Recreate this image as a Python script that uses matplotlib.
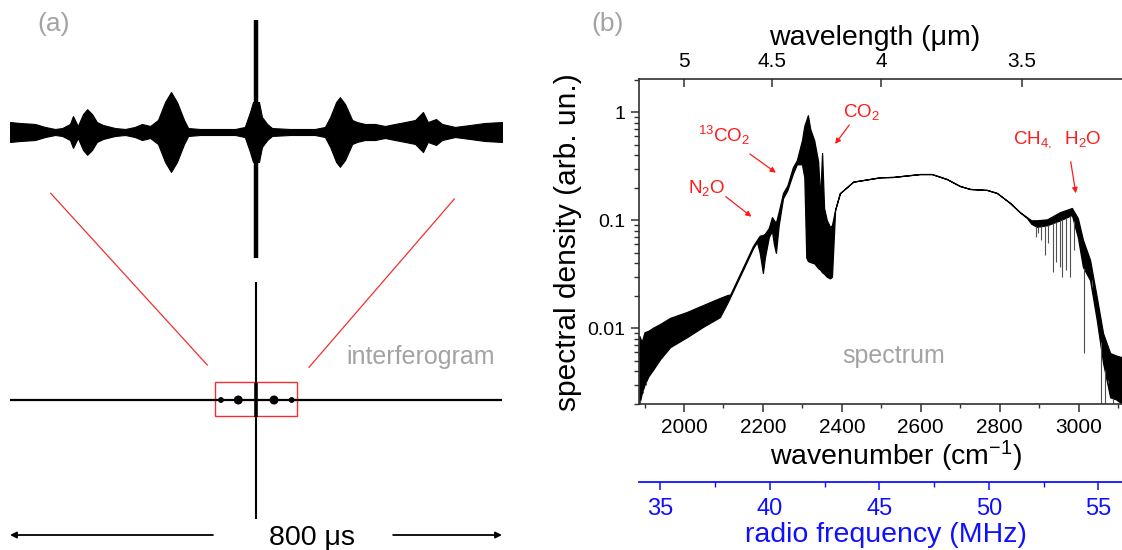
import numpy as np
import matplotlib
matplotlib.use('Agg')
import matplotlib.pyplot as plt
from matplotlib.patches import Rectangle
from matplotlib.lines import Line2D
from matplotlib.ticker import FixedLocator, NullLocator, MultipleLocator, LogLocator, NullFormatter

plt.rcParams['font.family'] = ['Liberation Sans', 'DejaVu Sans']
plt.rcParams['mathtext.fontset'] = 'custom'
plt.rcParams['mathtext.rm'] = 'Liberation Sans'
plt.rcParams['mathtext.it'] = 'Liberation Sans:italic'
plt.rcParams['mathtext.default'] = 'regular'

GRAY = '#a3a3a3'

# ---- interferogram, zoomed part (time in us, amplitude normalised to the centre burst)
zoom_t = [-66.0, -63.3, -59.3, -56.6, -53.9, -52.0, -49.9, -49.1, -47.8, -46.4, -45.3, -44.0,
          -42.7, -41.0, -37.8, -35.1, -32.5, -30.6, -28.4, -26.3, -24.4, -22.8, -21.2, -19.3,
          -18.2, -15.0, -11.0, -5.6, -3.0, -1.6, -0.8, 0.8, 1.6, 3.0, 4.3, 9.1, 15.8, 18.5,
          19.9, 21.5, 22.5, 23.9, 25.8, 27.1, 29.2, 31.9, 34.6, 37.3, 40.0, 42.7, 44.8, 46.1,
          48.3, 49.9, 53.4, 57.4, 61.4, 66.0]
zoom_env = [0.083, 0.075, 0.067, 0.042, 0.025, 0.033, 0.067, 0.133, 0.05, 0.15, 0.19, 0.15,
            0.083, 0.058, 0.033, 0.025, 0.042, 0.067, 0.05, 0.10, 0.25, 0.333, 0.25, 0.10,
            0.033, 0.025, 0.025, 0.025, 0.042, 0.167, 0.25, 0.25, 0.125, 0.067, 0.033, 0.025,
            0.025, 0.042, 0.125, 0.25, 0.29, 0.233, 0.10, 0.083, 0.067, 0.067, 0.05, 0.067,
            0.083, 0.10, 0.167, 0.083, 0.108, 0.067, 0.042, 0.058, 0.075, 0.083]
zoom_spike = (-1.05, 0.93)

# ---- interferogram, full record (800 us)
full_t = [-400, 400]
full_dots_t = [-57, -28.8, 29.3, 58]
full_dots_size = [10, 30, 30, 10]
full_spike = (-0.99, 0.98)
zoom_window = 66

# ---- spectrum: upper / lower envelope of the measured trace
spec_wn = [1887, 1893, 1900, 1910, 1921, 1940, 1965, 2008, 2048, 2091, 2111, 2117, 2150,
           2175, 2185, 2192, 2200, 2205, 2215, 2223, 2228, 2233, 2240, 2251, 2262, 2276,
           2286, 2299, 2305, 2310, 2314, 2320, 2330, 2340, 2345, 2350, 2355, 2362, 2370,
           2375, 2383, 2395, 2429, 2497, 2530, 2598, 2628, 2666, 2699, 2725, 2768, 2793,
           2826, 2851, 2869, 2880, 2894, 2920, 2953, 2983, 2998, 3011, 3029, 3046, 3062,
           3080, 3095, 3110]
spec_hi = [0.0085, 0.0075, 0.0092, 0.0095, 0.0101, 0.0110, 0.0125, 0.0142, 0.0164, 0.0191,
           0.0204, 0.0205, 0.037, 0.058, 0.066, 0.072, 0.073, 0.075, 0.085, 0.107, 0.10,
           0.095, 0.12, 0.179, 0.21, 0.31, 0.36, 0.55, 0.75, 0.85, 0.94, 0.70, 0.55, 0.35,
           0.16, 0.42, 0.13, 0.10, 0.087, 0.09, 0.125, 0.178, 0.228, 0.25, 0.252, 0.268,
           0.268, 0.241, 0.208, 0.195, 0.191, 0.179, 0.145, 0.119, 0.107, 0.100, 0.100,
           0.102, 0.119, 0.130, 0.105, 0.066, 0.043, 0.0195, 0.009, 0.0059, 0.0056, 0.0054]
spec_lo = [0.002, 0.0025, 0.0030, 0.0036, 0.0041, 0.0052, 0.0067, 0.0083, 0.0103, 0.0127,
           0.0175, 0.0195, 0.035, 0.055, 0.063, 0.050, 0.0325, 0.045, 0.070, 0.080, 0.06,
           0.050, 0.090, 0.160, 0.19, 0.27, 0.33, 0.33, 0.25, 0.045, 0.042, 0.041, 0.040,
           0.036, 0.035, 0.033, 0.032, 0.030, 0.029, 0.030, 0.125, 0.178, 0.228, 0.25, 0.252,
           0.268, 0.268, 0.241, 0.208, 0.195, 0.191, 0.179, 0.145, 0.119, 0.105, 0.093,
           0.087, 0.090, 0.100, 0.112, 0.070, 0.037, 0.028, 0.012, 0.0048, 0.0023, 0.0022,
           0.002]
# narrow absorption lines reaching below the envelope
line_wn = [1889, 1896, 1903, 2891, 2898, 2906, 2915, 2923, 2936, 2944, 2953, 2958, 2968,
           2978, 2988, 2999, 3013, 3020, 3033, 3056, 3067, 3074, 3087]
line_depth = [0.002, 0.0025, 0.003, 0.070, 0.076, 0.066, 0.048, 0.061, 0.033, 0.041, 0.037,
              0.030, 0.035, 0.030, 0.053, 0.066, 0.0059, 0.0325, 0.028, 0.002, 0.002, 0.0033,
              0.002]

wl_ticks = [5, 4.5, 4, 3.5]
wl_labels = ['5', '4.5', '4', '3.5']
rf_ticks = [35, 40, 45, 50, 55]
# radio frequency <-> optical wavenumber mapping of the comb
rf_ref_mhz, rf_ref_wn, wn_per_mhz = 35.0, 1940.0, 55.49

W, H = 1122, 550
fig = plt.figure(figsize=(W / 100, H / 100), dpi=100)


def fx(px):
    return px / W


def fy(py):
    return 1 - py / H


# ---------------- (a) interferogram ----------------
ax_z = fig.add_axes([fx(10), fy(264), fx(492), 264 / H])
ax_z.set_xlim(-66, 66)
ax_z.set_ylim(-1.1, 1.1)
ax_z.axis('off')
env = np.array(zoom_env)
ax_z.fill_between(zoom_t, -env, env, color='black', lw=0.8)
ax_z.vlines(0, zoom_spike[0], zoom_spike[1], color='black', lw=3.2)

ax_f = fig.add_axes([fx(10), 0, fx(492), 280 / H])
ax_f.set_xlim(-400, 400)
ax_f.set_ylim(-150 / 120, 130 / 120)
ax_f.axis('off')
ax_f.plot(full_t, [0, 0], color='black', lw=1.6)
ax_f.scatter(full_dots_t, [0] * len(full_dots_t), s=full_dots_size, color='black', zorder=3)
ax_f.vlines(0, full_spike[0], full_spike[1], color='black', lw=1.5)
ax_f.vlines(0, -0.14, 0.14, color='black', lw=2.6)
ax_f.add_patch(Rectangle((-zoom_window, -0.13), 2 * zoom_window, 0.283, fill=False,
                         edgecolor='#f03030', lw=1.0))
ax_f.annotate('', xy=(-400, -1.125), xytext=(-70, -1.125),
              arrowprops=dict(arrowstyle='-|>', color='black', lw=1.3, mutation_scale=9,
                              shrinkA=0, shrinkB=0), annotation_clip=False)
ax_f.annotate('', xy=(400, -1.125), xytext=(223, -1.125),
              arrowprops=dict(arrowstyle='-|>', color='black', lw=1.3, mutation_scale=9,
                              shrinkA=0, shrinkB=0), annotation_clip=False)
fig.text(fx(269), fy(545), '800 μs', fontsize=20.5, va='baseline')

for (x0, y0), (x1, y1) in [((50.7, 193.3), (207.3, 365)), ((454.3, 199), (309, 367.3))]:
    fig.add_artist(Line2D([fx(x0), fx(x1)], [fy(y0), fy(y1)], color='#f03030', lw=0.9))

fig.text(fx(346), fy(364), 'interferogram', fontsize=18, color=GRAY, va='baseline')
fig.text(fx(37), fy(31), '(a)', fontsize=19, color=GRAY, va='baseline')
fig.text(fx(591), fy(31), '(b)', fontsize=19, color=GRAY, va='baseline')

# ---------------- (b) spectrum ----------------
left, right, top, bottom = 639.3, 1122, 79.3, 404.3
ax = fig.add_axes([fx(left), fy(bottom), fx(right - left), (bottom - top) / H])
ax.set_xlim(1886.8, 3110)
ax.set_yscale('log')
ax.set_ylim(0.00198, 2.02)
ax.fill_between(spec_wn, spec_lo, spec_hi, color='black', edgecolor='black', lw=0.9)
line_top = np.interp(line_wn, spec_wn, spec_lo)
ax.vlines(line_wn, line_depth, line_top, color='#505050', lw=0.8)

for s in ['left', 'bottom', 'top']:
    ax.spines[s].set_color('#303030')
    ax.spines[s].set_linewidth(1.2)
ax.spines['right'].set_visible(False)

ax.xaxis.set_major_locator(MultipleLocator(200))
ax.xaxis.set_minor_locator(MultipleLocator(100))
ax.set_yticks([0.01, 0.1, 1])
ax.set_yticklabels(['0.01', '0.1', '1'])
ax.yaxis.set_minor_locator(LogLocator(base=10, subs=np.arange(2, 10)))
ax.yaxis.set_minor_formatter(NullFormatter())
ax.tick_params(axis='x', which='both', direction='out', top=False, labelsize=15, pad=4,
               color='#303030')
ax.tick_params(axis='x', which='major', length=6, width=1.1)
ax.tick_params(axis='x', which='minor', length=3.2, width=1.0)
ax.tick_params(axis='y', which='both', direction='out', right=False, labelsize=14, pad=4,
               color='#303030')
ax.tick_params(axis='y', which='major', length=6, width=1.1)
ax.tick_params(axis='y', which='minor', length=3.6, width=1.0)
ax.set_ylabel('spectral density (arb. un.)', fontsize=21.5, labelpad=4)
fig.text(fx(896), fy(465), 'wavenumber (cm$^{-1}$)', fontsize=20.5, ha='center',
         va='baseline')

sec = ax.secondary_xaxis('top', functions=(lambda x: 1e4 / x, lambda x: 1e4 / x))
sec.xaxis.set_major_locator(FixedLocator(wl_ticks))
sec.xaxis.set_minor_locator(NullLocator())
sec.set_xticklabels(wl_labels)
sec.tick_params(axis='x', direction='in', length=6, width=1.1, labelsize=15, pad=6,
                color='#303030')
sec.spines['top'].set_visible(False)
fig.text(fx(875), fy(45), 'wavelength (μm)', fontsize=20.5, ha='center', va='baseline')

fig.text(fx(842), fy(363), 'spectrum', fontsize=18, color=GRAY, va='baseline')

red = '#ff1a1a'
notes = [
    ('$^{13}$CO$_2$', (2035, 0.535), (2167, 0.411), (2233, 0.276)),
    ('CO$_2$', (2403, 0.905), (2419, 0.763), (2383, 0.509)),
    ('N$_2$O', (2010, 0.178), (2106, 0.1655), (2171, 0.108)),
    ('CH$_{4,}$  H$_2$O', (2834, 0.516), (2980, 0.349), (2993, 0.178)),
]
for label, txy, tail, head in notes:
    ax.text(txy[0], txy[1], label, fontsize=13.5, color=red, va='baseline')
    ax.annotate('', xy=head, xytext=tail,
                arrowprops=dict(arrowstyle='-|>', color=red, lw=0.9, mutation_scale=8,
                                shrinkA=0, shrinkB=0))

# radio-frequency axis
rf_lo = rf_ref_mhz + (1886.8 - rf_ref_wn) / wn_per_mhz
rf_hi = rf_ref_mhz + (3110 - rf_ref_wn) / wn_per_mhz
ax_rf = fig.add_axes([fx(left), fy(482.3), fx(right - left), 0.001])
ax_rf.set_xlim(rf_lo, rf_hi)
ax_rf.set_yticks([])
for s in ['left', 'right', 'top']:
    ax_rf.spines[s].set_visible(False)
ax_rf.spines['bottom'].set_color('#1010ff')
ax_rf.spines['bottom'].set_linewidth(1.3)
ax_rf.xaxis.set_major_locator(FixedLocator(rf_ticks))
ax_rf.xaxis.set_minor_locator(MultipleLocator(2.5))
ax_rf.tick_params(axis='x', which='both', direction='out', colors='#1010ff', labelsize=17,
                  pad=5)
ax_rf.tick_params(axis='x', which='major', length=6, width=1.1)
ax_rf.tick_params(axis='x', which='minor', length=3.5, width=1.0)
ax_rf.patch.set_visible(False)
fig.text(fx(886), fy(542.5), 'radio frequency (MHz)', fontsize=20.5, color='#1010ff',
         ha='center', va='baseline')

fig.savefig('out.png', dpi=100)
